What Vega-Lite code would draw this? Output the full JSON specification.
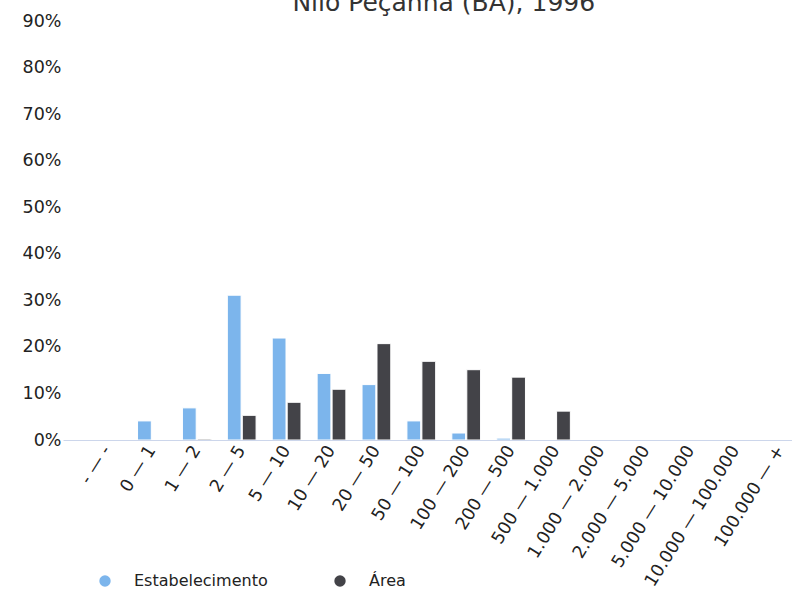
{
  "$schema": "https://vega.github.io/schema/vega-lite/v6.json",
  "autosize": "none",
  "padding": {"left": 63, "top": 21, "right": 0, "bottom": 149},
  "width": 761.5,
  "height": 419,
  "background": "white",
  "title": {
    "text": "Nilo Peçanha (BA), 1996",
    "font": "DejaVu Sans",
    "fontSize": 25,
    "fontWeight": "normal",
    "color": "#333333",
    "anchor": "middle",
    "frame": "group",
    "baseline": "alphabetic",
    "offset": 0,
    "dy": 24
  },
  "config": {
    "view": {"stroke": null},
    "font": "DejaVu Sans"
  },
  "data": {
    "values": [
      {"classe": "- — -", "serie": "Estabelecimento", "valor": 0},
      {"classe": "- — -", "serie": "Área", "valor": 0},
      {"classe": "0 — 1", "serie": "Estabelecimento", "valor": 0.041},
      {"classe": "0 — 1", "serie": "Área", "valor": 0},
      {"classe": "1 — 2", "serie": "Estabelecimento", "valor": 0.069},
      {"classe": "1 — 2", "serie": "Área", "valor": 0.002},
      {"classe": "2 — 5", "serie": "Estabelecimento", "valor": 0.311},
      {"classe": "2 — 5", "serie": "Área", "valor": 0.053},
      {"classe": "5 — 10", "serie": "Estabelecimento", "valor": 0.219},
      {"classe": "5 — 10", "serie": "Área", "valor": 0.081},
      {"classe": "10 — 20", "serie": "Estabelecimento", "valor": 0.143},
      {"classe": "10 — 20", "serie": "Área", "valor": 0.109},
      {"classe": "20 — 50", "serie": "Estabelecimento", "valor": 0.119},
      {"classe": "20 — 50", "serie": "Área", "valor": 0.207},
      {"classe": "50 — 100", "serie": "Estabelecimento", "valor": 0.041},
      {"classe": "50 — 100", "serie": "Área", "valor": 0.169},
      {"classe": "100 — 200", "serie": "Estabelecimento", "valor": 0.015},
      {"classe": "100 — 200", "serie": "Área", "valor": 0.151},
      {"classe": "200 — 500", "serie": "Estabelecimento", "valor": 0.004},
      {"classe": "200 — 500", "serie": "Área", "valor": 0.135},
      {"classe": "500 — 1.000", "serie": "Estabelecimento", "valor": 0},
      {"classe": "500 — 1.000", "serie": "Área", "valor": 0.062},
      {"classe": "1.000 — 2.000", "serie": "Estabelecimento", "valor": 0},
      {"classe": "1.000 — 2.000", "serie": "Área", "valor": 0},
      {"classe": "2.000 — 5.000", "serie": "Estabelecimento", "valor": 0},
      {"classe": "2.000 — 5.000", "serie": "Área", "valor": 0},
      {"classe": "5.000 — 10.000", "serie": "Estabelecimento", "valor": 0},
      {"classe": "5.000 — 10.000", "serie": "Área", "valor": 0},
      {"classe": "10.000 — 100.000", "serie": "Estabelecimento", "valor": 0},
      {"classe": "10.000 — 100.000", "serie": "Área", "valor": 0},
      {"classe": "100.000 — +", "serie": "Estabelecimento", "valor": 0},
      {"classe": "100.000 — +", "serie": "Área", "valor": 0}
    ]
  },
  "mark": {"type": "bar", "stroke": "white", "strokeWidth": 1},
  "encoding": {
    "x": {
      "field": "classe",
      "type": "nominal",
      "sort": null,
      "scale": {"paddingInner": 0.36, "paddingOuter": 0.66},
      "axis": {
        "title": null,
        "zindex": 1,
        "domainColor": "#ccd6eb",
        "domainWidth": 1,
        "ticks": false,
        "labelAngle": -58,
        "labelFontSize": 17.5,
        "labelColor": "#222222",
        "labelPadding": 7,
        "labelOverlap": false,
        "labelLimit": 300
      }
    },
    "xOffset": {
      "field": "serie",
      "type": "nominal",
      "sort": ["Estabelecimento", "Área"],
      "scale": {"paddingInner": 0.08}
    },
    "y": {
      "field": "valor",
      "type": "quantitative",
      "scale": {"domain": [0, 0.9], "nice": false},
      "axis": {
        "title": null,
        "format": ".0%",
        "values": [0, 0.1, 0.2, 0.3, 0.4, 0.5, 0.6, 0.7, 0.8, 0.9],
        "grid": false,
        "domain": false,
        "ticks": false,
        "labelFontSize": 17.5,
        "labelColor": "#222222",
        "labelPadding": 2
      }
    },
    "color": {
      "field": "serie",
      "type": "nominal",
      "sort": ["Estabelecimento", "Área"],
      "scale": {"domain": ["Estabelecimento", "Área"], "range": ["#7cb5ec", "#434348"]},
      "legend": {
        "title": null,
        "orient": "none",
        "direction": "horizontal",
        "legendX": 34,
        "legendY": 552,
        "symbolType": "circle",
        "symbolSize": 130,
        "symbolStrokeWidth": 0,
        "labelFontSize": 16,
        "labelColor": "#222222",
        "labelOffset": 21,
        "columnPadding": 64
      }
    }
  }
}
